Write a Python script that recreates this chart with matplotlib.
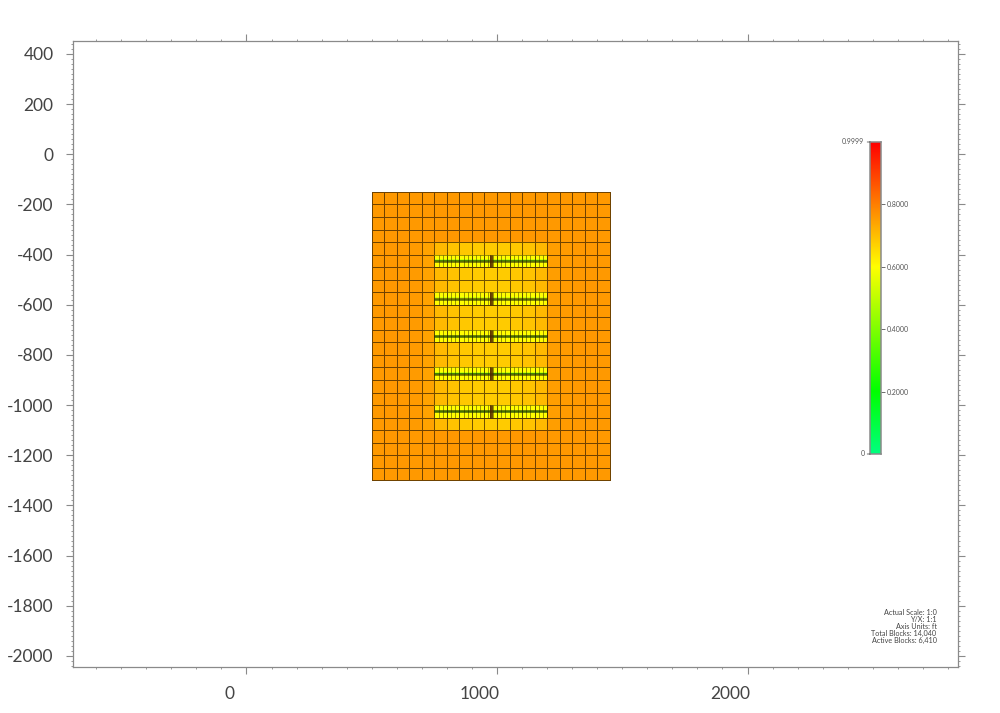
import matplotlib
matplotlib.use("Agg")
import matplotlib.pyplot as plt
import matplotlib.transforms as mt
from matplotlib.colors import LinearSegmentedColormap
import numpy as np

plt.rcParams['font.family'] = ['Lato', 'DejaVu Sans']

# --- data -----------------------------------------------------------------
x_edges = [500, 550, 600, 650, 700, 750, 800, 850, 900, 950, 1000, 1050, 1100,
           1150, 1200, 1250, 1300, 1350, 1400, 1450]
y_edges = [-150, -200, -250, -300, -350, -400, -450, -500, -550, -600, -650, -700,
           -750, -800, -850, -900, -950, -1000, -1050, -1100, -1150, -1200, -1250, -1300]

outer_row = [0.76] * 19
inner_row = [0.76, 0.76, 0.76, 0.755, 0.745, 0.71, 0.695, 0.685, 0.68, 0.68, 0.68,
             0.685, 0.695, 0.71, 0.75, 0.755, 0.76, 0.76, 0.76]
row_is_inner = [0, 0, 0, 0, 1, 1, 1, 1, 1, 1, 1, 1, 1, 1, 1, 1, 1, 1, 1, 0, 0, 0, 0]

fracture_y = [-425, -575, -725, -875, -1025]
fracture_center = [0.40, 0.62, 0.44, 0.36, 0.42]
stage_x = 975

fine_dx = [750, 767, 783, 800, 817, 833, 850, 867, 883, 900, 917, 933, 950, 966, 971, 974,
           976, 979, 984, 1000, 1017, 1033, 1050, 1067, 1083, 1100, 1117, 1133, 1150, 1167,
           1183, 1200]
fine_dy = [-25, -12, -6, -2, 2, 6, 12, 25]
fine_row_values = [0.605, 0.60, 0.52, None, 0.52, 0.60, 0.605]
center_col_values = [0.74, 0.82, 0.86, 0.9, 0.86, 0.82, 0.74]

x_ticks = [0, 1000, 2000]
y_ticks = [400, 200, 0, -200, -400, -600, -800, -1000, -1200, -1400, -1600, -1800, -2000]
cbar_ticks = [0.2, 0.4, 0.6, 0.8]
cbar_tick_labels = ['0.2000', '0.4000', '0.6000', '0.8000']
stats = ['Actual Scale: 1:0', 'Y/X: 1:1', 'Axis Units: ft', 'Total Blocks: 14,040', 'Active Blocks: 6,410']

# --- colours ---------------------------------------------------------------
cmap = LinearSegmentedColormap.from_list('sat', [
    (0.0, (0, 1, 0.5)), (0.2, (0, 1, 0)), (0.4, (0.5, 1, 0)),
    (0.6, (1, 1, 0)), (0.8, (1, 0.5, 0)), (1.0, (1, 0, 0))])

W, H = 1000, 713
fig = plt.figure(figsize=(W / 100, H / 100), dpi=100)
ax = fig.add_axes([73 / W, 1 - 667 / H, (958 - 73) / W, (667 - 41) / H])
GRAY = '#8a8a8a'
TXT = '#444444'

values = np.array([inner_row if f else outer_row for f in row_is_inner])
ax.pcolormesh(x_edges, y_edges, values, cmap=cmap, vmin=0, vmax=1,
              edgecolors=(0.2, 0.12, 0, 0.7), linewidth=0.5, zorder=2)

fx = np.array(fine_dx)
center_idx = fine_dx.index(974)
for y0, cv in zip(fracture_y, fracture_center):
    fy = y0 + np.array(fine_dy)
    m = np.zeros((len(fine_dy) - 1, len(fine_dx) - 1))
    for i, v in enumerate(fine_row_values):
        m[i, :] = cv if v is None else v
        m[i, center_idx] = center_col_values[i]
    ax.pcolormesh(fx, fy, m, cmap=cmap, vmin=0, vmax=1, zorder=3)
    for xl in fine_dx:
        ax.plot([xl, xl], [y0 - 25, y0 + 25], color='#4a3a00', lw=0.7, alpha=0.55, zorder=4,
                solid_capstyle='butt')
    for xl in x_edges[5:15]:
        ax.plot([xl, xl], [y0 - 25, y0 + 25], color='#3a2a00', lw=0.7, alpha=0.7, zorder=4,
                solid_capstyle='butt')
    for yl in (y0 - 25, y0 + 25):
        ax.plot([750, 1200], [yl, yl], color='#3a2a00', lw=0.5, alpha=0.7, zorder=4,
                solid_capstyle='butt')
    ax.plot([750, 1200], [y0, y0], color='#1e2400', lw=1.9, alpha=0.65, zorder=4,
            solid_capstyle='butt')
    ax.plot([stage_x, stage_x], [y0 - 25, y0 + 25], color='#5a2c00', lw=2.0, alpha=0.75, zorder=5,
            solid_capstyle='butt')

ax.set_xlim((73 - 246.5) / 0.2505, (958 - 246.5) / 0.2505)
ax.set_ylim((154.3 - 667) / 0.2508, (154.3 - 41) / 0.2508)

for s in ax.spines.values():
    s.set_color(GRAY)
    s.set_linewidth(0.9)

ax.set_xticks(x_ticks)
ax.set_xticklabels([str(v) for v in x_ticks])
ax.set_yticks(y_ticks)
ax.set_yticklabels([str(v) for v in y_ticks])
ax.set_xticks(np.arange(-600, 2900, 100), minor=True)
ax.set_yticks(np.arange(-2040, 460, 20), minor=True)
ax.tick_params(which='major', length=5, width=0.8, color=GRAY, direction='out',
               top=True, right=True, labelsize=12.5, labelcolor=TXT, pad=9)
ax.tick_params(which='minor', length=1.5, width=0.6, color=GRAY, direction='out',
               top=True, right=True)
ax.tick_params(axis='x', which='major', pad=9)
off = mt.ScaledTranslation(-17 / 100, 0, fig.dpi_scale_trans)
for t in ax.get_xticklabels():
    t.set_transform(t.get_transform() + off)

# colour bar
cax = fig.add_axes([870 / W, 1 - 454 / H, 11 / W, (454 - 142) / H])
grad = np.linspace(0, 0.9999, 256).reshape(-1, 1)
cax.imshow(grad, origin='lower', aspect='auto', cmap=cmap, vmin=0, vmax=1,
           extent=[0, 1, 0, 0.9999])
cax.set_xticks([])
cax.set_yticks(cbar_ticks)
cax.set_yticklabels(cbar_tick_labels)
cax.yaxis.tick_right()
cax.tick_params(axis='y', length=3, width=0.6, color='#555555', labelsize=5,
                labelcolor='#555555', pad=0.8)
for s in cax.spines.values():
    s.set_color(GRAY)
    s.set_linewidth(1.1)
for val, lab in [(0.9999, '0.9999'), (0, '0')]:
    cax.annotate(lab, xy=(0, val), xytext=(-4, 0), textcoords='offset points',
                 xycoords=('axes fraction', 'data'), ha='right', va='center', fontsize=5,
                 color='#555555', arrowprops=dict(arrowstyle='-', lw=0.6, color='#555555', shrinkA=0, shrinkB=0))

for line, py in zip(stats, [612.5, 619.5, 626.5, 633.5, 640.5]):
    fig.text(936.5 / W, 1 - py / H, line, ha='right', va='center', fontsize=5.2, color='#444444')

fig.savefig('out.png', dpi=100)
